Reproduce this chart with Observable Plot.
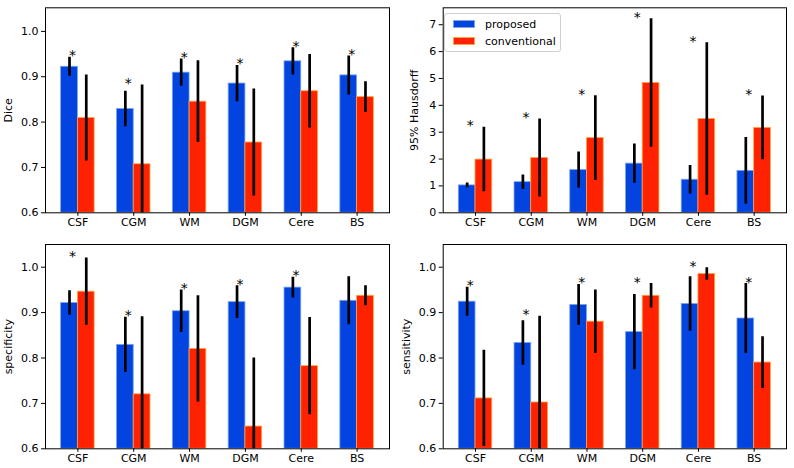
<!DOCTYPE html>
<html><head><meta charset="utf-8">
<script src="https://cdn.jsdelivr.net/npm/d3@7"></script>
<script src="https://cdn.jsdelivr.net/npm/@observablehq/plot@0.6"></script>
<style>
body{margin:0;background:#fff}
#wrap{position:relative;width:794px;height:468px;font-family:"DejaVu Sans",sans-serif;overflow:hidden}
.panel{position:absolute}
#legend{position:absolute;left:444px;top:13px;width:115px;height:37px;border:1px solid #d0d0d0;border-radius:3px;background:rgba(255,255,255,0.85);font-size:11px;color:#000}
#legend .row{position:absolute;left:8px;height:14px;display:flex;align-items:center}
#legend .sw{width:22px;height:8px;margin-right:10px;box-sizing:border-box}
</style>
</head><body>
<div id="wrap"></div>
<script>
// categories and series
const categories = ["CSF", "CGM", "WM", "DGM", "Cere", "BS"];
const seriesNames = ["proposed", "conventional"];
const seriesColors = ["#0343df", "#ff2200"];
const seriesEdges = ["#7aa6e6", "#ffa640"];

// Dice
const diceProposed = [0.922, 0.829, 0.909, 0.885, 0.934, 0.903];
const diceProposedStd = [0.021, 0.039, 0.030, 0.040, 0.030, 0.043];
const diceConventional = [0.809, 0.707, 0.845, 0.755, 0.868, 0.855];
const diceConventionalStd = [0.095, 0.175, 0.090, 0.118, 0.081, 0.034];
const diceStars = [true, true, true, true, true, true];

// 95% Hausdorff
const hdProposed = [1.02, 1.14, 1.59, 1.83, 1.23, 1.56];
const hdProposedStd = [0.085, 0.27, 0.67, 0.73, 0.53, 1.245];
const hdConventional = [1.98, 2.04, 2.78, 4.83, 3.49, 3.16];
const hdConventionalStd = [1.20, 1.45, 1.58, 2.39, 2.84, 1.19];
const hdStars = [true, true, true, true, true, true];

// specificity
const specProposed = [0.921, 0.829, 0.903, 0.923, 0.955, 0.926];
const specProposedStd = [0.027, 0.061, 0.047, 0.036, 0.023, 0.053];
const specConventional = [0.946, 0.720, 0.820, 0.649, 0.782, 0.937];
const specConventionalStd = [0.074, 0.171, 0.117, 0.151, 0.107, 0.022];
const specStars = [true, true, true, true, true, false];

// sensitivity
const sensProposed = [0.924, 0.833, 0.917, 0.857, 0.919, 0.887];
const sensProposedStd = [0.032, 0.049, 0.045, 0.083, 0.060, 0.077];
const sensConventional = [0.711, 0.702, 0.880, 0.937, 0.985, 0.790];
const sensConventionalStd = [0.106, 0.190, 0.070, 0.027, 0.014, 0.057];
const sensStars = [true, true, true, true, true, true];

const yTicksFrac = [0.6, 0.7, 0.8, 0.9, 1.0];
const yTicksHd = [0, 1, 2, 3, 4, 5, 6, 7];

const wrap = document.getElementById("wrap");

function panel({prop, propStd, conv, convStd, stars, yDomain, yTicks, yFormat, yLabel, left, top, mTop, mBottom, mLeft, labelOffset}) {
  const rows = categories.flatMap((c, i) => [
    {i, series: seriesNames[0], v: prop[i], s: propStd[i], off: -0.15},
    {i, series: seriesNames[1], v: conv[i], s: convStd[i], off: 0.15}
  ]);
  const starRows = categories.map((c, i) => ({i, top: Math.max(prop[i] + propStd[i], conv[i] + convStd[i])}))
    .filter(d => stars[d.i]);
  const base = yDomain[0];
  const p = Plot.plot({
    width: 397, height: 234,
    marginLeft: mLeft, marginRight: 8, marginTop: mTop, marginBottom: mBottom,
    style: {fontSize: "11px", fontFamily: "DejaVu Sans, sans-serif", background: "transparent", color: "#000"},
    x: {type: "linear", domain: [-0.58, 5.58]},
    y: {domain: yDomain},
    color: {domain: seriesNames, range: seriesColors},
    marks: [
      Plot.rectY(rows, {x1: d => d.i + d.off - 0.15, x2: d => d.i + d.off + 0.15, y1: base, y2: "v", fill: "series",
        stroke: d => seriesEdges[seriesNames.indexOf(d.series)], strokeWidth: 0.8, clip: true}),
      Plot.ruleX(rows, {x: d => d.i + d.off, y1: d => d.v - d.s, y2: d => d.v + d.s, stroke: "black", strokeWidth: 2.7, clip: true}),
      Plot.text(starRows, {x: d => d.i - 0.15, y: "top", text: () => "*", textAnchor: "start", lineAnchor: "middle", dy: -1.5, dx: -0.5, fontSize: 14, fill: "black"}),
      Plot.axisX({ticks: [0, 1, 2, 3, 4, 5], tickFormat: i => categories[i], tickSize: 3.5, tickPadding: 2, label: null}),
      Plot.axisY({ticks: yTicks, tickFormat: yFormat, tickSize: 4, tickPadding: 3, label: yLabel, labelAnchor: "center", labelArrow: "none", labelOffset}),
      Plot.frame({stroke: "black", strokeWidth: 1})
    ]
  });
  p.classList.add("panel");
  p.style.left = left + "px";
  p.style.top = top + "px";
  wrap.appendChild(p);
}

const f1 = d3.format(".1f");
const f0 = d3.format("d");

panel({prop: diceProposed, propStd: diceProposedStd, conv: diceConventional, convStd: diceConventionalStd, stars: diceStars,
  yDomain: [0.6, 1.052], yTicks: yTicksFrac, yFormat: f1, yLabel: "Dice", left: 0, top: 0, mTop: 7.3, mBottom: 21.7, mLeft: 45, labelOffset: 41});
panel({prop: hdProposed, propStd: hdProposedStd, conv: hdConventional, convStd: hdConventionalStd, stars: hdStars,
  yDomain: [0, 7.63], yTicks: yTicksHd, yFormat: f0, yLabel: "95% Hausdorff", left: 397, top: 0, mTop: 7.3, mBottom: 21.7, mLeft: 45.7, labelOffset: 33});
panel({prop: specProposed, propStd: specProposedStd, conv: specConventional, convStd: specConventionalStd, stars: specStars,
  yDomain: [0.6, 1.05], yTicks: yTicksFrac, yFormat: f1, yLabel: "specificity", left: 0, top: 234, mTop: 10, mBottom: 19.7, mLeft: 45, labelOffset: 41});
panel({prop: sensProposed, propStd: sensProposedStd, conv: sensConventional, convStd: sensConventionalStd, stars: sensStars,
  yDomain: [0.6, 1.05], yTicks: yTicksFrac, yFormat: f1, yLabel: "sensitivity", left: 397, top: 234, mTop: 10, mBottom: 19.7, mLeft: 45.7, labelOffset: 41});

// legend (inside the Hausdorff panel)
const lg = document.createElement("div");
lg.id = "legend";
seriesNames.forEach((name, k) => {
  const row = document.createElement("div");
  row.className = "row";
  row.style.top = (3 + k * 17) + "px";
  const sw = document.createElement("div");
  sw.className = "sw";
  sw.style.background = seriesColors[k];
  sw.style.border = "0.8px solid " + seriesEdges[k];
  const tx = document.createElement("span");
  tx.textContent = name;
  row.appendChild(sw); row.appendChild(tx);
  lg.appendChild(row);
});
wrap.appendChild(lg);
</script>
</body></html>
